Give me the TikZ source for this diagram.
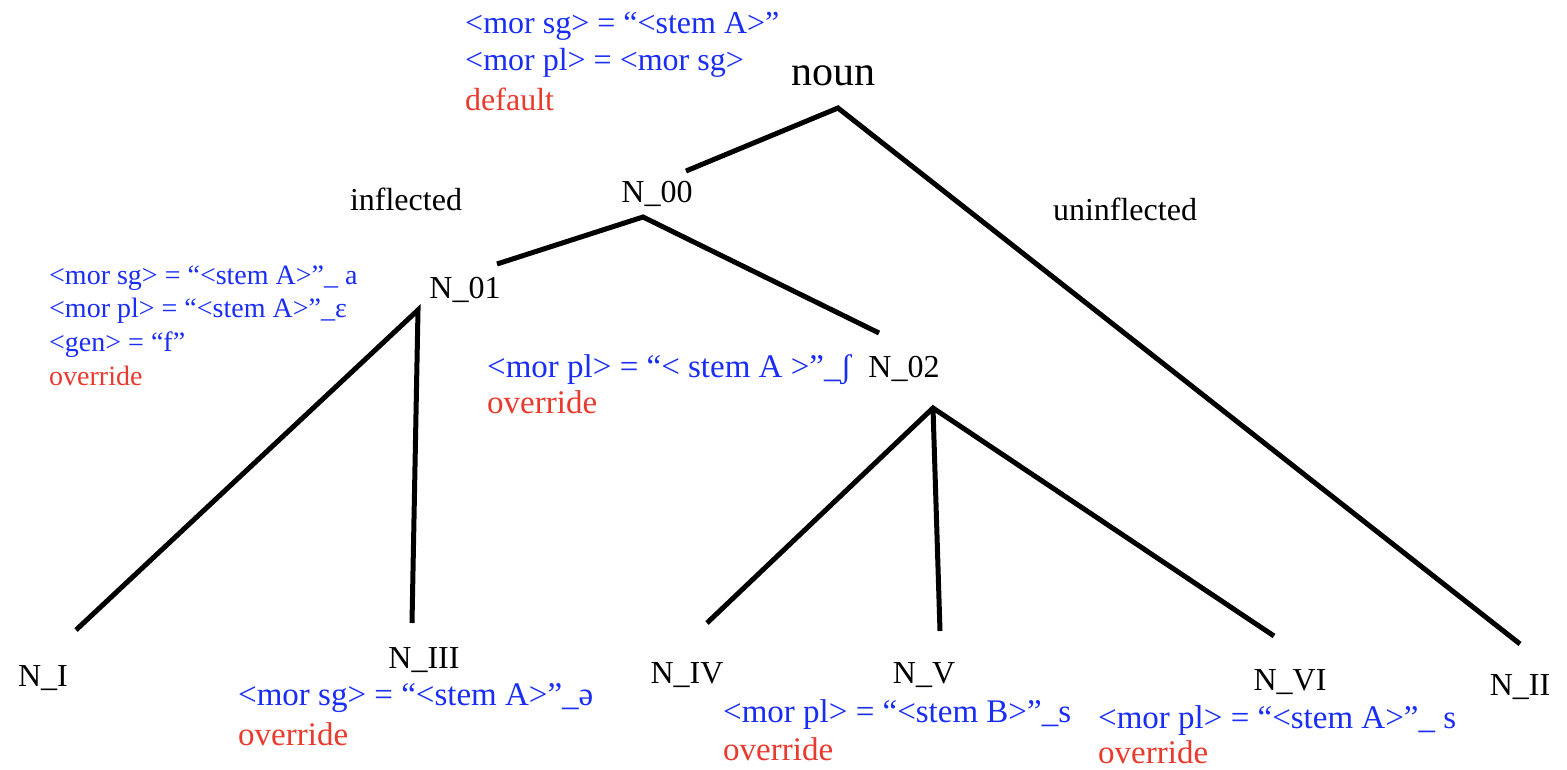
\documentclass[tikz,border=0pt]{standalone}
\usepackage{fontspec}
\setmainfont{Liberation Serif}
\definecolor{attrblue}{RGB}{25,45,245}
\definecolor{ovred}{RGB}{233,58,46}
\begin{document}
\begin{tikzpicture}[x=1pt,y=-1pt,
  cat/.style={font=\fontsize{32}{36}\selectfont, inner sep=0pt, anchor=base},
  branchlabel/.style={font=\fontsize{32}{36}\selectfont, inner sep=0pt, anchor=base},
  attr/.style={text=attrblue, inner sep=0pt, anchor=base west},
  ovr/.style={text=ovred, inner sep=0pt, anchor=base west},
  big/.style={font=\fontsize{33}{38}\selectfont},
  mid/.style={font=\fontsize{32}{36}\selectfont},
  small/.style={font=\fontsize{28}{32}\selectfont},
  branch/.style={line width=5pt, black}]
\useasboundingbox (0,0) rectangle (1567,769);

% category labels
\node[cat, font=\fontsize{42}{46}\selectfont] (noun) at (833,85) {noun};
\node[cat] (n00) at (657,202) {N\_00};
\node[cat] (n01) at (465,298) {N\_01};
\node[cat] (n02) at (904,377) {N\_02};
\node[cat] (nI) at (43,686) {N\_I};
\node[cat] (nIII) at (424,668) {N\_III};
\node[cat] (nIV) at (687,683) {N\_IV};
\node[cat] (nV) at (924,683) {N\_V};
\node[cat] (nVI) at (1290,690) {N\_VI};
\node[cat] (nII) at (1520,695) {N\_II};

% branch names
\node[branchlabel] (infl) at (406,210) {inflected};
\node[branchlabel] (uninfl) at (1125,220) {uninflected};

% attribute blocks
\node[attr, mid] (a0a) at (465,33) {<mor sg> = “<stem A>”};
\node[attr, mid] (a0b) at (465,70) {<mor pl> = <mor sg>};
\node[ovr, mid] (a0c) at (465,110) {default};

\node[attr, small] (a1a) at (49,284) {<mor sg> = “<stem A>”\_ a};
\node[attr, small] (a1b) at (49,317) {<mor pl> = “<stem A>”\_ε};
\node[attr, small] (a1c) at (49,351) {<gen> = “f”};
\node[ovr, small] (a1d) at (49,385) {override};

\node[attr, big] (a2a) at (487,377) {<mor pl> = “< stem A >”\_ʃ};
\node[ovr, big] (a2b) at (487,413) {override};

\node[attr, big] (a3a) at (238,705) {<mor sg> = “<stem A>”\_ə};
\node[ovr, big] (a3b) at (238,745) {override};

\node[attr, big] (a5a) at (723,722) {<mor pl> = “<stem B>”\_s};
\node[ovr, big] (a5b) at (723,760) {override};

\node[attr, big] (a6a) at (1098,728) {<mor pl> = “<stem A>”\_ s};
\node[ovr, big] (a6b) at (1098,763) {override};

% branch end points
\coordinate (noun-foot) at (838,108);
\coordinate (n00-head) at (686,171);
\coordinate (n00-foot) at (643,217);
\coordinate (n01-head) at (497,264);
\coordinate (n02-head) at (879,333);
\coordinate (n01-foot) at (418,310);
\coordinate (nI-head) at (76,630);
\coordinate (nIII-head) at (412,623);
\coordinate (n02-foot) at (933,408);
\coordinate (nIV-head) at (707,623);
\coordinate (nV-head) at (940,631);
\coordinate (nVI-head) at (1274,636);
\coordinate (nII-head) at (1520,644);

% branches
\draw[branch] (n00-head) -- (noun-foot) -- (nII-head);
\draw[branch] (n01-head) -- (n00-foot) -- (n02-head);
\draw[branch] (nI-head) -- (n01-foot) -- (nIII-head);
\draw[branch] (nIV-head) -- (n02-foot) -- (nVI-head);
\draw[branch] (n02-foot) -- (nV-head);
\end{tikzpicture}
\end{document}
